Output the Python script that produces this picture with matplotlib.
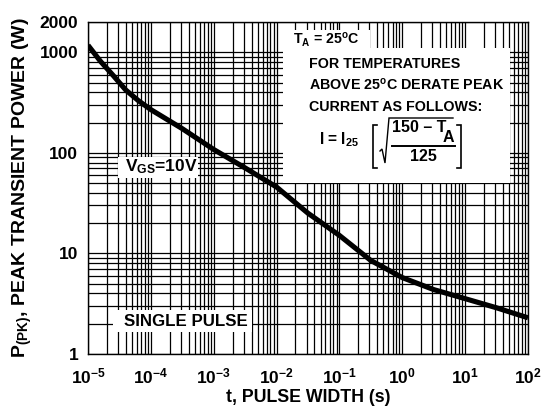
import matplotlib
matplotlib.use("Agg")
import matplotlib.pyplot as plt
from matplotlib.patches import Rectangle
from matplotlib.lines import Line2D
from matplotlib.ticker import FixedLocator, FixedFormatter, LogLocator, NullFormatter

plt.rcParams['font.family'] = ['Liberation Sans', 'DejaVu Sans']
plt.rcParams['font.weight'] = 'bold'
plt.rcParams['mathtext.fontset'] = 'custom'
plt.rcParams['mathtext.rm'] = 'Liberation Sans:bold'
plt.rcParams['mathtext.it'] = 'Liberation Sans:bold'
plt.rcParams['mathtext.bf'] = 'Liberation Sans:bold'
plt.rcParams['mathtext.default'] = 'bf'

# data
pulse_width = [1e-5, 1.58e-5, 2.51e-5, 3.98e-5, 6.31e-5, 1e-4, 3.16e-4, 1e-3,
               3.16e-3, 1e-2, 3.16e-2, 0.1, 0.316, 1, 3.16, 10, 31.6, 100]
peak_power = [1175, 813, 589, 422, 331, 269, 174, 108,
              70.8, 45.7, 25.1, 15.1, 8.51, 5.75, 4.37, 3.55, 2.88, 2.29]

x_ticks = [1e-5, 1e-4, 1e-3, 1e-2, 1e-1, 1e0, 1e1, 1e2]
x_tick_labels = [r'$10^{-5}$', r'$10^{-4}$', r'$10^{-3}$', r'$10^{-2}$',
                 r'$10^{-1}$', r'$10^{0}$', r'$10^{1}$', r'$10^{2}$']
y_ticks = [1, 10, 100, 1000, 2000]
y_tick_labels = ['1', '10', '100', '1000', '2000']

W, H = 547, 412
AX_L, AX_R, AX_T, AX_B = 88, 528, 22, 354

fig = plt.figure(figsize=(W / 100, H / 100), dpi=100)
ax = fig.add_axes([AX_L / W, 1 - AX_B / H, (AX_R - AX_L) / W, (AX_B - AX_T) / H])
ax.set_xscale('log')
ax.set_yscale('log')
ax.set_xlim(1e-5, 1e2)
ax.set_ylim(1, 2000)

ax.xaxis.set_major_locator(FixedLocator(x_ticks))
ax.xaxis.set_major_formatter(FixedFormatter(x_tick_labels))
ax.xaxis.set_minor_locator(LogLocator(base=10, subs=range(2, 10), numticks=20))
ax.xaxis.set_minor_formatter(NullFormatter())
ax.yaxis.set_major_locator(FixedLocator(y_ticks))
ax.yaxis.set_major_formatter(FixedFormatter(y_tick_labels))
ax.yaxis.set_minor_locator(LogLocator(base=10, subs=range(2, 10), numticks=20))
ax.yaxis.set_minor_formatter(NullFormatter())

ax.grid(True, which='both', color='black', linewidth=0.9)
ax.tick_params(which='both', length=0, labelsize=12.5)
ax.tick_params(axis='x', pad=9)
ax.tick_params(axis='y', pad=7)
for s in ax.spines.values():
    s.set_linewidth(1.0)
    s.set_color('black')
ax.set_axisbelow(True)


def px(x, y):
    """convert reference pixel position to axes fraction"""
    return (x - AX_L) / (AX_R - AX_L), (AX_B - y) / (AX_B - AX_T)


def box(x0, y0, x1, y1):
    (ax0, ay1), (ax1, ay0) = px(x0, y0), px(x1, y1)
    ax.add_patch(Rectangle((ax0, ay0), ax1 - ax0, ay1 - ay0, transform=ax.transAxes,
                           facecolor='white', edgecolor='none', zorder=2))


def txt(x, y, s, size, ha='left'):
    ax.text(*px(x, y), s, transform=ax.transAxes, fontsize=size, fontweight='bold',
            ha=ha, va='center', zorder=5)


def seg(points, lw=1.2):
    xs, ys = zip(*[px(x, y) for x, y in points])
    ax.add_line(Line2D(xs, ys, transform=ax.transAxes, color='black', linewidth=lw,
                       zorder=5, solid_joinstyle='miter'))


# white label boxes
box(283, 30, 370, 48)
box(283, 48, 510, 183)
box(118, 157, 198, 178)
box(113, 310, 252, 332)

ax.plot(pulse_width, peak_power, color='black', linewidth=3.7,
        solid_capstyle='butt', solid_joinstyle='round', zorder=4)

txt(161, 167, r'V$_{\mathbf{GS}}$=10V', 12.5, ha='center')
txt(186, 321, 'SINGLE PULSE', 12.2, ha='center')

txt(293, 40, r'T$_{\mathbf{A}}$ = 25$^{\mathbf{o}}$C', 10.2)
txt(309, 64, 'FOR TEMPERATURES', 10.3)
txt(309, 85, r'ABOVE 25$^{\mathbf{o}}$C DERATE PEAK', 10.3)
txt(309, 107, 'CURRENT AS FOLLOWS:', 10.3)
txt(319, 140, r'I = I$_{\mathbf{25}}$', 11.2)

# derating formula: [ sqrt( (150 - T_A) / 125 ) ]
seg([(377, 125), (373, 125), (373, 168), (377, 168)])
seg([(457, 125), (461, 125), (461, 168), (457, 168)])
seg([(380, 151), (382, 149), (385, 163), (389, 118), (453, 118)], lw=1.0)
seg([(392, 146), (455, 146)], lw=1.4)
txt(392, 128, '150 \u2013 T', 11.5)
txt(443, 138, 'A', 11.5)
txt(423, 157, '125', 11.5, ha='center')

ax.set_xlabel('t, PULSE WIDTH (s)', fontsize=12.8, fontweight='bold', labelpad=2)
ax.set_ylabel(r'P$_{\mathbf{(PK)}}$, PEAK TRANSIENT POWER (W)', fontsize=14,
              fontweight='bold', labelpad=4)

fig.savefig('out.png', dpi=100)
